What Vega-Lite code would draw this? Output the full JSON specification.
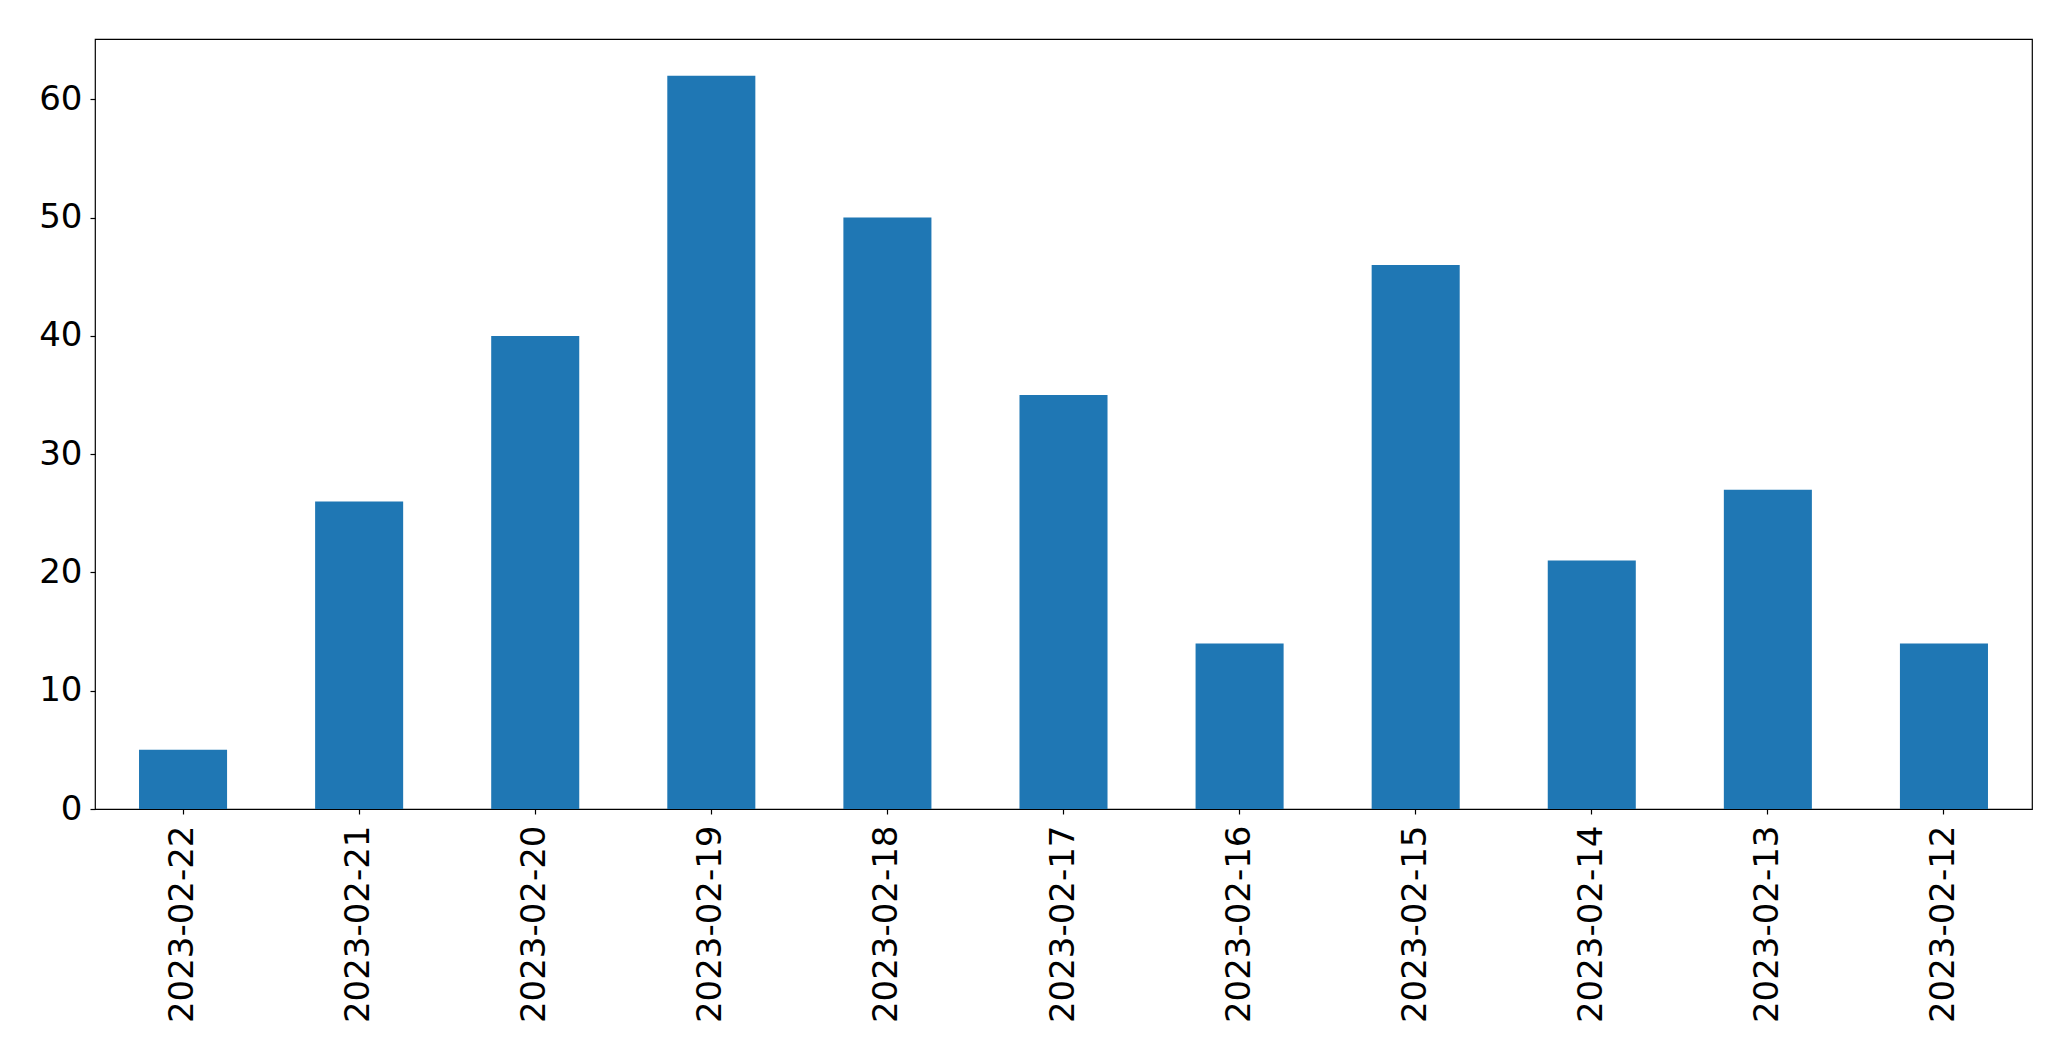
{
  "$schema": "https://vega.github.io/schema/vega-lite/v6.json",
  "autosize": "none",
  "width": 1937,
  "height": 770,
  "padding": {"left": 95, "top": 39, "right": 39, "bottom": 252},
  "background": "white",
  "config": {
    "view": {"stroke": "black", "strokeWidth": 1.2},
    "font": "DejaVu Sans"
  },
  "data": {
    "values": [
      {"date": "2023-02-22", "count": 5},
      {"date": "2023-02-21", "count": 26},
      {"date": "2023-02-20", "count": 40},
      {"date": "2023-02-19", "count": 62},
      {"date": "2023-02-18", "count": 50},
      {"date": "2023-02-17", "count": 35},
      {"date": "2023-02-16", "count": 14},
      {"date": "2023-02-15", "count": 46},
      {"date": "2023-02-14", "count": 21},
      {"date": "2023-02-13", "count": 27},
      {"date": "2023-02-12", "count": 14}
    ]
  },
  "mark": {"type": "bar", "color": "#1f77b4"},
  "encoding": {
    "x": {
      "field": "date",
      "type": "nominal",
      "sort": null,
      "scale": {"paddingInner": 0.5, "paddingOuter": 0.25},
      "axis": {
        "title": null,
        "labelAngle": -90,
        "labelFont": "DejaVu Sans",
        "labelFontSize": 34,
        "labelLimit": 0,
        "labelColor": "black",
        "labelPadding": 11,
        "tickSize": 5,
        "tickColor": "black",
        "tickWidth": 1.2,
        "domain": false,
        "grid": false
      }
    },
    "y": {
      "field": "count",
      "type": "quantitative",
      "scale": {"domain": [0, 65.1], "nice": false},
      "axis": {
        "title": null,
        "values": [0, 10, 20, 30, 40, 50, 60],
        "labelFont": "DejaVu Sans",
        "labelFontSize": 34,
        "labelColor": "black",
        "labelPadding": 8,
        "tickSize": 5,
        "tickColor": "black",
        "tickWidth": 1.2,
        "domain": false,
        "grid": false
      }
    }
  }
}
